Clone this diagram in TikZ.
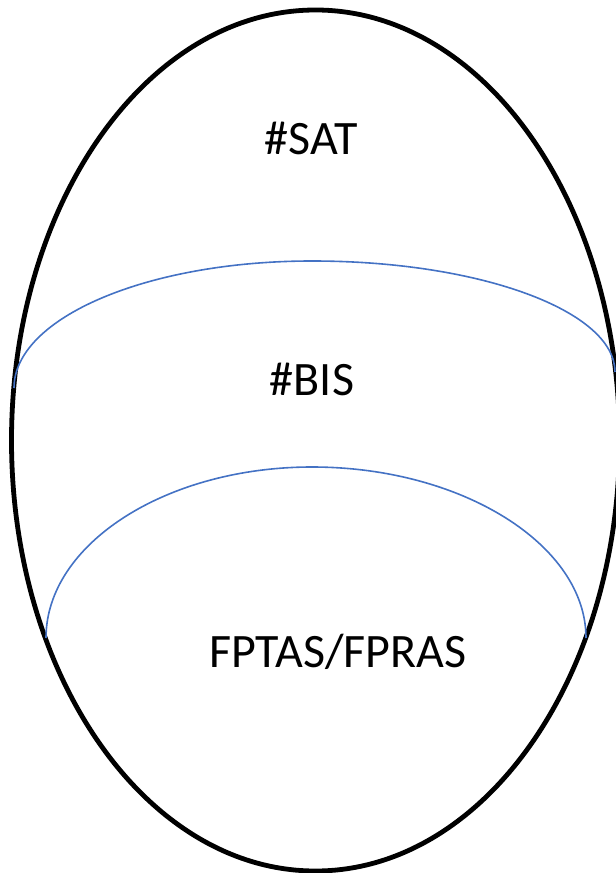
\documentclass[tikz,border=0pt]{standalone}
\usepackage{fontspec}
\setmainfont{Carlito}
\usetikzlibrary{shapes.geometric}
\definecolor{officeblue}{HTML}{4472C4}

\begin{document}
\begin{tikzpicture}[
  x=0.75pt, y=-0.75pt,
  outerline/.style={draw=black, line width=3.6pt},
  classline/.style={draw=officeblue, line width=1.2pt},
  label/.style={anchor=base, font=\fontsize{36}{43}\selectfont, inner sep=0pt}
]
\useasboundingbox (0,0) rectangle (616,873);
\node[ellipse, outerline, minimum width=456pt, minimum height=645.75pt, inner sep=0pt] (outer) at (315.5,440.5) {};
\draw[classline] (14,388) .. controls (14,318) and (147,261) .. (312,261) .. controls (480,261) and (615,311) .. (615,372);
\draw[classline] (46,638) .. controls (46,544) and (166,467) .. (312,467) .. controls (462,467) and (586,545) .. (586,638);
\node[label] (sat) at (311,155) {\#SAT};
\node[label] (bis) at (312,395) {\#BIS};
\node[label] (fp) at (338,667) {FPTAS/FPRAS};
\end{tikzpicture}
\end{document}
